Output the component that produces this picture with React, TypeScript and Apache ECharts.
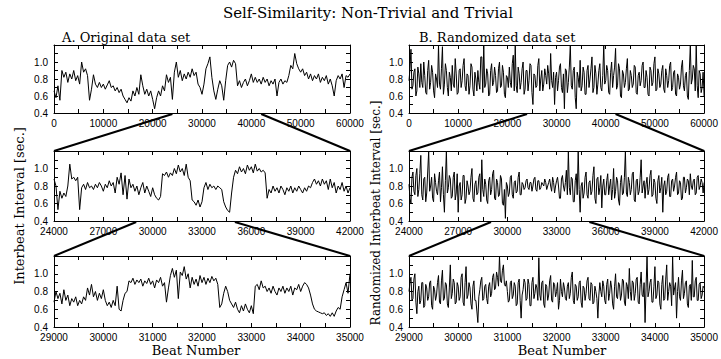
import React, { useEffect, useRef } from "react";
import * as echarts from "echarts";

// ---- Data (interbeat intervals in seconds) ----
const origTopRange = [0, 60000];
const origTop = [
  0.66, 0.58, 0.72, 0.55, 0.9, 0.82, 0.88, 0.76, 0.86, 0.8,
  0.9, 0.78, 0.84, 0.74, 1.0, 0.88, 0.92, 0.84, 0.55, 0.68,
  0.85, 0.74, 0.7, 0.76, 0.7, 0.74, 0.68, 0.73, 0.78, 0.7,
  0.72, 0.66, 0.7, 0.64, 0.68, 0.6, 0.56, 0.52, 0.58, 0.54,
  0.66, 0.6, 0.7, 0.62, 0.85, 0.72, 0.62, 0.68, 0.6, 0.66,
  0.56, 0.45, 0.58, 0.66, 0.6, 0.72, 0.66, 0.85, 0.76, 0.82,
  0.56, 0.88, 1.0, 0.82, 0.9, 0.78, 0.86, 0.8, 0.88, 0.82,
  0.92, 0.84, 0.88, 0.74, 0.7, 0.62, 0.74, 0.92, 0.98, 1.06,
  0.82, 0.66, 0.56, 0.68, 0.78, 0.72, 0.55, 0.78, 0.96, 1.0,
  0.94, 1.02, 0.98, 0.72, 0.78, 0.7, 0.76, 0.8, 0.72, 0.78,
  0.86, 0.76, 0.82, 0.76, 0.8, 0.74, 0.82, 0.76, 0.8, 0.72,
  0.78, 0.74, 0.8, 0.6, 0.76, 0.8, 0.74, 0.78, 0.76, 0.84,
  0.96, 0.92, 1.1, 0.98, 0.92, 0.88, 0.92, 0.84, 0.88, 0.8,
  0.86, 0.78, 0.84, 0.8, 0.86, 0.76, 0.82, 0.78, 0.84, 0.74,
  0.8, 0.72, 0.6, 0.78, 0.84, 0.8, 0.86, 0.7, 0.84, 0.82, 0.86,
];

const origMidRange = [24000, 42000];
const origMid = [
  0.88, 0.8, 0.53, 0.74, 0.66, 0.72, 0.68, 0.8, 1.05, 0.88,
  0.9, 0.86, 0.9, 0.53, 0.78, 0.82, 0.76, 0.84, 0.78, 0.8,
  0.76, 0.82, 0.78, 0.84, 0.8, 0.74, 0.82, 0.78, 0.86, 0.8,
  0.84, 0.72, 0.9, 0.82, 0.95, 0.7, 0.92, 0.65, 0.88, 0.78,
  0.82, 0.74, 0.8, 0.7, 0.78, 0.84, 0.72, 0.8, 0.74, 0.68,
  0.78, 0.7, 0.66, 0.64, 0.68, 0.94, 0.92, 0.96, 0.9, 0.95,
  0.92, 1.0, 0.94, 1.04, 0.96, 1.0, 0.92, 1.05, 0.9, 0.86,
  0.64, 0.62, 0.58, 0.64, 0.56, 0.62, 0.78, 0.84, 0.76, 0.82,
  0.78, 0.8, 0.76, 0.8, 0.78, 0.76, 0.62, 0.56, 0.52, 0.5,
  0.72, 0.9, 0.98, 0.94, 1.02, 0.96, 1.0, 0.94, 1.04, 0.98,
  1.02, 0.95, 1.05, 0.97, 1.0, 0.96, 0.98, 0.95, 0.66, 0.76,
  0.72, 0.8, 0.74, 0.78, 0.72, 0.8, 0.76, 0.7, 0.78, 0.74,
  0.8, 0.72, 0.78, 0.74, 0.8, 0.76, 0.72, 0.78, 0.74, 0.8,
  0.78, 0.84, 0.88, 0.82, 0.86, 0.8, 0.88, 0.82, 0.86, 0.76,
  0.88, 0.78, 0.84, 0.72, 0.8, 0.76, 0.84, 0.74, 0.8, 0.72, 0.78,
];

const origLowRange = [29000, 35000];
const origLow = [
  0.68, 0.8, 0.72, 0.78, 0.66, 0.82, 0.7, 0.76, 0.64, 0.72,
  0.68, 0.74, 0.64, 0.7, 0.66, 0.74, 0.7, 0.84, 0.76, 0.88,
  0.74, 0.8, 0.7, 0.78, 0.72, 0.82, 0.7, 0.64, 0.68, 0.62,
  0.7, 0.64, 0.86, 0.6, 0.58, 0.7, 0.78, 0.8, 0.92, 0.9,
  0.95, 0.88, 0.93, 0.9, 0.94, 0.86, 0.92, 0.89, 0.95, 0.88,
  0.92, 0.84, 0.93, 0.9, 0.96, 0.86, 0.9, 0.68, 0.84, 0.98,
  1.06, 0.96, 1.04, 0.72, 1.02, 0.98, 1.08, 0.94, 1.0, 0.84,
  0.96, 0.88, 0.94, 0.86, 0.98, 0.9, 0.96, 0.88, 0.95, 0.9,
  0.97, 0.92, 0.95, 0.88, 0.62, 0.66, 0.78, 0.86, 0.8, 0.7,
  0.66, 0.62, 0.68, 0.6, 0.56, 0.64, 0.58, 0.66, 0.6, 0.56,
  0.64, 0.55, 0.86, 0.88, 0.82, 0.92, 0.84, 0.86, 0.8, 0.84,
  0.78, 0.86, 0.8, 0.76, 0.84, 0.8, 0.86, 0.78, 0.84, 0.8,
  0.86, 0.76, 0.84, 0.82, 0.88, 0.8, 0.86, 0.9, 0.88, 0.84,
  0.76, 0.66, 0.6, 0.58, 0.57, 0.56, 0.55, 0.56, 0.53, 0.55,
  0.52, 0.56, 0.52, 0.58, 0.62, 0.6, 0.74, 0.82, 0.9, 0.78, 1.0,
];

const randTopRange = [0, 60000];
const randTop = [
  0.78, 0.92, 1.15, 0.68, 0.72, 0.88, 0.92, 0.6, 0.66, 0.94, 0.86, 0.7, 0.98, 0.76, 0.7, 1.0, 0.84, 0.64, 0.62, 0.9,
  1.02, 0.68, 0.76, 0.96, 0.88, 0.66, 0.58, 0.86, 0.8, 0.7, 1.2, 0.74, 0.68, 0.92, 1.18, 0.62, 0.74, 0.98, 0.9, 0.7,
  0.6, 0.88, 0.82, 0.66, 0.96, 0.74, 0.7, 1.04, 0.86, 0.62, 0.64, 0.9, 0.92, 0.7, 0.78, 0.96, 1.04, 0.72, 0.66, 0.86,
  0.84, 0.62, 0.72, 0.98, 0.94, 0.68, 0.6, 0.88, 0.8, 0.66, 0.9, 0.76, 0.68, 1.06, 1.06, 0.64, 1.2, 0.7, 0.74, 0.92,
  0.86, 0.6, 0.62, 0.9, 0.98, 0.72, 0.76, 0.94, 0.84, 0.64, 0.66, 0.92, 1.0, 0.7, 0.72, 0.96, 0.88, 0.62, 0.58, 0.84,
  0.82, 0.7, 0.94, 0.76, 0.7, 0.98, 1.08, 0.66, 1.2, 0.72, 0.64, 0.94, 0.86, 0.68, 0.76, 0.92, 1.0, 0.62, 0.68, 0.9,
  0.9, 0.66, 0.78, 0.98, 0.96, 0.64, 0.5, 0.86, 0.84, 0.7, 0.72, 0.96, 1.04, 0.66, 0.8, 0.9, 0.66, 0.74, 0.92, 0.84,
  0.74, 0.96, 0.86, 0.68, 1.1, 0.78, 0.7, 0.88, 0.5, 0.82, 0.88, 0.66, 0.78, 0.94, 0.98, 0.7, 0.64, 0.86, 0.45, 0.92,
  0.9, 0.64, 0.76, 0.94, 1.2, 0.72, 0.68, 0.9, 0.94, 0.58, 0.45, 0.88, 0.82, 0.7, 1.02, 0.66, 0.72, 0.94, 0.88, 0.62,
  0.62, 0.9, 0.96, 0.7, 0.8, 0.92, 1.06, 0.64, 0.7, 0.96, 0.86, 0.62, 0.74, 0.9, 0.98, 0.7, 0.66, 0.84, 1.2, 0.74,
  0.78, 0.96, 0.9, 0.64, 0.62, 0.88, 1.0, 0.7, 0.84, 0.94, 1.16, 0.68, 0.72, 0.98, 0.92, 0.6, 0.58, 0.9, 0.86, 0.7,
  0.76, 0.92, 1.04, 0.66, 0.68, 0.9, 0.84, 0.7, 0.74, 0.96, 0.94, 0.64, 0.62, 0.84, 0.88, 0.72, 0.78, 0.96, 1.0, 0.7,
  0.7, 0.9, 0.82, 0.62, 0.6, 0.94, 0.9, 0.72, 0.76, 0.98, 1.06, 0.66, 0.68, 0.92, 0.86, 0.7, 0.74, 0.9, 0.96, 0.68,
  0.64, 0.92, 0.84, 0.7, 0.78, 0.96, 1.0, 0.66, 0.7, 0.88, 0.9, 0.62, 0.6, 0.86, 0.82, 0.68, 0.74, 0.94, 1.02, 0.72,
  0.66, 0.84, 0.88, 0.6, 0.56, 0.9, 1.2, 0.74, 0.8, 0.96, 0.92, 0.66, 1.2, 0.72, 0.58, 0.9, 0.86, 0.64, 0.7, 0.88,
  0.6,
];

const randMidRange = [24000, 42000];
const randMid = [
  0.82, 0.66, 0.6, 0.9, 0.96, 0.74, 0.7, 0.92, 1.0, 0.68, 0.76, 0.94, 1.15, 0.7, 0.64, 0.88, 0.9, 0.62, 0.72, 0.96,
  1.2, 0.74, 0.8, 0.9, 0.66, 0.62, 0.94, 0.84, 0.74, 0.7, 0.86, 0.96, 0.62, 0.78, 1.02, 0.7, 0.5, 0.86, 1.2, 0.72,
  0.78, 0.92, 0.88, 0.66, 0.68, 0.9, 0.96, 0.64, 0.72, 0.94, 0.5, 0.8, 0.84, 0.64, 0.7, 0.92, 0.92, 0.6, 0.66, 0.86,
  0.8, 0.7, 0.74, 0.9, 1.0, 0.66, 0.62, 0.82, 0.86, 0.7, 0.72, 0.9, 0.94, 0.62, 1.1, 0.76, 0.68, 0.88, 0.82, 0.64,
  0.6, 0.86, 0.9, 0.7, 0.76, 0.94, 0.98, 0.66, 0.64, 0.88, 0.84, 0.68, 0.7, 0.92, 0.88, 0.6, 0.58, 0.76, 0.43, 0.84,
  0.8, 0.68, 0.72, 0.9, 0.92, 0.7, 0.66, 0.84, 0.86, 0.72, 0.74, 0.9, 0.96, 0.7, 0.7, 0.84, 0.82, 0.76, 0.78, 0.86,
  0.88, 0.78, 0.76, 0.84, 0.84, 0.74, 0.8, 0.88, 0.9, 0.76, 0.74, 0.86, 0.86, 0.76, 0.78, 0.84, 0.82, 0.8, 0.88, 0.84,
  0.76, 0.8, 0.84, 0.88, 0.8, 0.74, 0.9, 0.84, 0.72, 0.8, 0.86, 0.9, 0.8, 0.66, 0.66, 0.88, 0.92, 0.8, 0.74, 0.84,
  0.98, 0.7, 1.2, 0.78, 0.7, 0.9, 0.88, 0.62, 0.62, 0.86, 0.94, 0.7, 1.2, 0.76, 0.5, 0.8, 0.84, 0.66, 0.72, 0.9,
  0.96, 0.7, 0.66, 0.84, 0.86, 0.7, 0.74, 0.92, 1.02, 0.66, 0.6, 0.88, 0.9, 0.7, 0.78, 0.92, 0.55, 0.8, 0.88, 0.7,
  0.7, 0.86, 0.94, 0.7, 0.8, 0.88, 0.64, 0.76, 1.0, 0.66, 0.74, 0.9, 0.86, 0.64, 0.58, 0.84, 0.92, 0.7, 0.72, 0.9,
  1.2, 0.72, 0.68, 0.9, 0.84, 0.7, 0.76, 0.94, 0.96, 0.64, 0.62, 0.86, 0.88, 0.7, 0.74, 0.9, 1.1, 0.72, 0.8, 0.86,
  0.66, 0.82, 0.9, 0.7, 0.76, 0.92, 0.98, 0.68, 0.7, 0.88, 0.84, 0.66, 0.6, 0.86, 0.92, 0.72, 0.78, 0.9, 0.5, 0.8,
  0.86, 0.7, 0.74, 0.9, 0.94, 0.68, 0.68, 0.86, 0.88, 0.74, 0.8, 0.9, 0.96, 0.7, 0.72, 0.86, 0.84, 0.64, 0.66, 0.9,
  0.9, 0.72, 0.78, 0.88, 0.86, 0.7, 0.94, 0.8, 0.76, 0.86, 0.88, 0.7, 0.72, 0.9, 0.92, 0.76, 0.8, 0.88, 0.84, 0.72,
  0.84,
];

const randLowRange = [29000, 35000];
const randLow = [
  0.8, 0.9, 0.96, 0.7, 0.72, 0.94, 1.0, 0.68, 0.55, 0.8, 0.86, 0.66, 0.7, 0.9, 0.9, 0.62, 0.64, 0.88, 0.84, 0.7,
  0.74, 0.9, 0.92, 0.64, 0.6, 0.86, 0.82, 0.7, 0.76, 0.9, 0.98, 0.68, 0.66, 0.92, 1.04, 0.7, 0.72, 0.9, 0.88, 0.66,
  0.62, 0.84, 1.1, 0.72, 0.78, 0.94, 0.9, 0.66, 0.68, 0.9, 0.86, 0.7, 0.74, 0.96, 1.0, 0.68, 0.64, 0.9, 1.08, 0.72,
  0.76, 0.9, 0.84, 0.66, 0.6, 0.86, 0.92, 0.7, 0.7, 0.58, 0.45, 0.74, 0.82, 0.92, 0.96, 0.7, 0.72, 0.86, 0.88, 0.72,
  0.66, 0.86, 0.9, 0.74, 0.78, 0.96, 1.0, 0.82, 0.84, 1.02, 0.96, 0.86, 1.2, 0.92, 0.9, 1.04, 1.1, 0.88, 0.86, 0.92,
  0.8, 0.68, 0.7, 0.9, 0.92, 0.72, 0.76, 0.9, 0.86, 0.64, 0.66, 0.9, 0.94, 0.7, 0.5, 0.76, 0.82, 0.94, 0.9, 0.7,
  0.72, 0.94, 0.88, 0.64, 0.64, 0.9, 0.96, 0.72, 0.78, 0.88, 0.84, 0.7, 1.18, 0.76, 0.7, 0.9, 0.92, 0.66, 0.62, 0.88,
  0.86, 0.7, 0.76, 0.92, 0.98, 0.7, 0.68, 0.9, 0.88, 0.74, 0.8, 0.9, 0.6, 0.7, 0.94, 0.8, 0.74, 0.9, 0.84, 0.72,
  0.7, 0.86, 0.9, 0.72, 0.78, 0.96, 1.02, 0.7, 0.66, 0.88, 0.86, 0.7, 0.74, 0.9, 0.92, 0.68, 0.62, 0.86, 0.84, 0.7,
  0.78, 0.92, 0.96, 0.72, 0.7, 0.9, 0.88, 0.66, 0.68, 0.86, 0.8, 0.72, 0.5, 0.76, 0.9, 0.8, 0.74, 0.92, 0.86, 0.7,
  0.66, 0.88, 0.94, 0.7, 0.78, 0.92, 0.84, 0.66, 0.6, 0.86, 1.0, 0.74, 0.72, 0.9, 0.88, 0.7, 0.76, 0.94, 0.92, 0.68,
  0.64, 0.9, 0.86, 0.72, 1.06, 0.8, 0.7, 0.92, 0.9, 0.7, 0.78, 0.94, 0.96, 0.68, 0.66, 0.88, 1.02, 0.76, 0.74, 0.9,
  0.45, 0.84, 1.2, 0.74, 0.8, 0.9, 0.94, 0.68, 0.68, 0.86, 1.08, 0.72, 0.76, 0.92, 0.9, 0.66, 0.6, 0.88, 0.98, 0.7,
  0.72, 0.94, 1.1, 0.7, 0.8, 0.9, 0.86, 0.64, 1.2, 0.76, 0.84, 0.9, 0.5, 0.8, 0.96, 0.74, 0.7, 0.92, 1.04, 0.72,
  0.78, 0.9, 0.92, 0.66, 0.62, 0.86, 0.88, 0.7, 1.15, 0.74, 0.74, 0.92, 0.96, 0.7, 0.7, 0.88, 0.9, 0.72, 0.76, 0.86,
  0.84,
];

// axis steps: [minor tick interval, label interval]
const xSteps = [
  [5000, 10000],
  [1500, 3000],
  [500, 1000],
];
const yRange = [0.4, 1.2];
const yLabelValues = [0.4, 0.6, 0.8, 1.0];

const mainTitle = "Self-Similarity: Non-Trivial and Trivial";
const panelTitles = ["A. Original data set", "B. Randomized data set"];
const yTitles = ["Interbeat Interval [sec.]", "Randomized Interbeat Interval [sec.]"];
const xTitle = "Beat Number";

const SERIF = "'DejaVu Serif', 'Liberation Serif', serif";
const SANS = "'Liberation Sans', Arial, sans-serif";

export default function App() {
  const ref = useRef<HTMLDivElement>(null);

  useEffect(() => {
    document.body.style.margin = "0";
    const el = ref.current!;
    const chart = echarts.init(el, null, { renderer: "svg" });

    const panels = [
      { data: origTop, range: origTopRange, row: 0, col: 0 },
      { data: origMid, range: origMidRange, row: 1, col: 0 },
      { data: origLow, range: origLowRange, row: 2, col: 0 },
      { data: randTop, range: randTopRange, row: 0, col: 1 },
      { data: randMid, range: randMidRange, row: 1, col: 1 },
      { data: randLow, range: randLowRange, row: 2, col: 1 },
    ];
    const rowBox = [
      { top: 45, height: 68 },
      { top: 151, height: 70 },
      { top: 256, height: 71 },
    ];
    const colBox = [
      { left: 54, width: 296 },
      { left: 409, width: 298 },
    ];

    const grids: any[] = [];
    const xAxes: any[] = [];
    const yAxes: any[] = [];
    const series: any[] = [];

    panels.forEach((p, i) => {
      grids.push({
        left: colBox[p.col].left,
        width: colBox[p.col].width,
        top: rowBox[p.row].top,
        height: rowBox[p.row].height,
        show: false,
      });
      const [tick, lab] = xSteps[p.row];
      const baseX = {
        gridIndex: i,
        type: "value",
        min: p.range[0],
        max: p.range[1],
        interval: tick,
        splitLine: { show: false },
        axisLine: { show: true, onZero: false, lineStyle: { color: "#000", width: 1 } },
        axisTick: { show: true, inside: true, length: 4, lineStyle: { color: "#000" } },
      };
      xAxes.push({
        ...baseX,
        position: "bottom",
        axisLabel: {
          show: true,
          color: "#000",
          fontFamily: SANS,
          fontSize: 10,
          margin: 5,
          showMinLabel: true,
          showMaxLabel: true,
          formatter: (v: number) => (Math.round(v) % lab === 0 ? String(Math.round(v)) : ""),
        },
      });
      xAxes.push({ ...baseX, position: "top", axisLabel: { show: false } });

      const baseY = {
        gridIndex: i,
        type: "value",
        min: yRange[0],
        max: yRange[1],
        interval: 0.1,
        splitLine: { show: false },
        axisLine: { show: true, onZero: false, lineStyle: { color: "#000", width: 1 } },
        axisTick: { show: true, inside: true, length: 4, lineStyle: { color: "#000" } },
      };
      yAxes.push({
        ...baseY,
        position: "left",
        axisLabel: {
          show: true,
          color: "#000",
          fontFamily: SANS,
          fontSize: 10,
          margin: 6,
          showMaxLabel: true,
          formatter: (v: number) => {
            const hit = yLabelValues.find((t) => Math.abs(t - v) < 1e-6);
            return hit !== undefined ? hit.toFixed(1) : "";
          },
        },
      });
      yAxes.push({ ...baseY, position: "right", axisLabel: { show: false } });

      const n = p.data.length;
      const step = (p.range[1] - p.range[0]) / (n - 1);
      series.push({
        type: "line",
        xAxisIndex: 2 * i,
        yAxisIndex: 2 * i,
        data: p.data.map((v, k) => [p.range[0] + k * step, v]),
        showSymbol: false,
        symbol: "none",
        silent: true,
        lineStyle: { color: "#000", width: 1 },
        clip: true,
      });
    });

    const texts: any[] = [
      {
        type: "text",
        x: 368,
        y: 13,
        style: { text: mainTitle, font: `15px ${SERIF}`, fill: "#000", textAlign: "center", textVerticalAlign: "middle" },
      },
      {
        type: "text",
        x: 62,
        y: 37,
        style: { text: panelTitles[0], font: `13px ${SERIF}`, fill: "#000", textAlign: "left", textVerticalAlign: "middle" },
      },
      {
        type: "text",
        x: 419,
        y: 37,
        style: { text: panelTitles[1], font: `13px ${SERIF}`, fill: "#000", textAlign: "left", textVerticalAlign: "middle" },
      },
      {
        type: "text",
        x: 19,
        y: 206,
        rotation: Math.PI / 2,
        style: { text: yTitles[0], font: `13px ${SERIF}`, fill: "#000", textAlign: "center", textVerticalAlign: "middle" },
      },
      {
        type: "text",
        x: 376,
        y: 213,
        rotation: Math.PI / 2,
        style: { text: yTitles[1], font: `12px ${SERIF}`, fill: "#000", textAlign: "center", textVerticalAlign: "middle" },
      },
      {
        type: "text",
        x: 196,
        y: 350,
        style: { text: xTitle, font: `13px ${SERIF}`, fill: "#000", textAlign: "center", textVerticalAlign: "middle" },
      },
      {
        type: "text",
        x: 562,
        y: 350,
        style: { text: xTitle, font: `13px ${SERIF}`, fill: "#000", textAlign: "center", textVerticalAlign: "middle" },
      },
    ];

    chart.setOption({
      animation: false,
      backgroundColor: "#fff",
      grid: grids,
      xAxis: xAxes,
      yAxis: yAxes,
      series,
      graphic: texts,
    });

    // zoom connector lines: from the zoomed range on the upper panel's axis
    // to the top corners of the panel below
    const lines: any[] = [];
    const link = (upper: number, lower: number) => {
      const lo = panels[lower].range;
      const a = chart.convertToPixel({ xAxisIndex: 2 * upper, yAxisIndex: 2 * upper }, [lo[0], yRange[0]]);
      const b = chart.convertToPixel({ xAxisIndex: 2 * upper, yAxisIndex: 2 * upper }, [lo[1], yRange[0]]);
      const c = chart.convertToPixel({ xAxisIndex: 2 * lower, yAxisIndex: 2 * lower }, [lo[0], yRange[1]]);
      const d = chart.convertToPixel({ xAxisIndex: 2 * lower, yAxisIndex: 2 * lower }, [lo[1], yRange[1]]);
      lines.push({ type: "line", shape: { x1: a[0], y1: a[1] + 1, x2: c[0], y2: c[1] }, style: { stroke: "#000", lineWidth: 2 } });
      lines.push({ type: "line", shape: { x1: b[0], y1: b[1] + 1, x2: d[0], y2: d[1] }, style: { stroke: "#000", lineWidth: 2 } });
    };
    link(0, 1);
    link(1, 2);
    link(3, 4);
    link(4, 5);

    chart.setOption({ graphic: [...texts, ...lines] });

    return () => chart.dispose();
  }, []);

  return (
    <div
      ref={ref}
      style={{ position: "absolute", left: 0, top: 0, width: 721, height: 359, background: "#fff" }}
    />
  );
}
